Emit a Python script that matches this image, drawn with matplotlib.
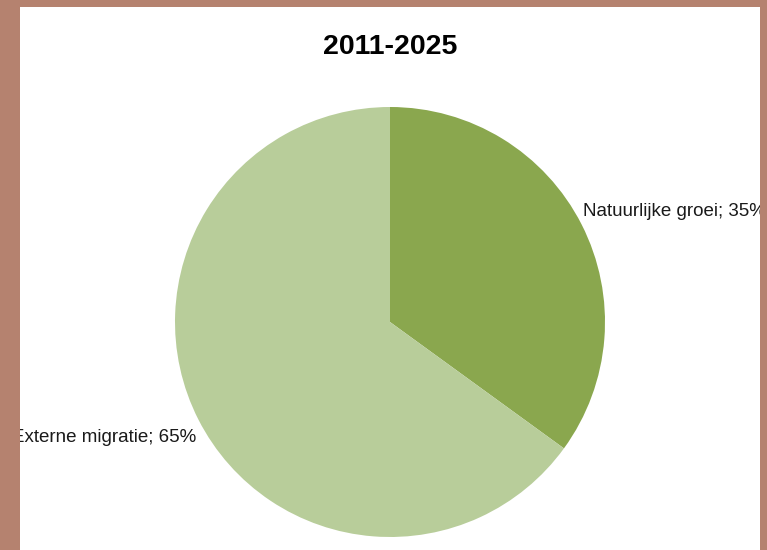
import matplotlib
matplotlib.use("Agg")
import matplotlib.pyplot as plt
from matplotlib.patches import Rectangle
import numpy as np

title = "2011-2025"
categories = ["Natuurlijke groei", "Externe migratie"]
values = [35, 65]
colors = ["#8aa74e", "#b8cd9a"]

W, H = 767, 550
fig = plt.figure(figsize=(W / 100, H / 100), dpi=100)
fig.patch.set_facecolor("#b5826f")

# white panel
px0, py0, px1, py1 = 20, 7, 760, 550
panel = Rectangle((px0 / W, 1 - py1 / H), (px1 - px0) / W, (py1 - py0) / H,
                  transform=fig.transFigure, facecolor="white", edgecolor="none", zorder=-10)
fig.patches.append(panel)

cx, cy, r = 390, 322, 215
ax = fig.add_axes([(cx - r) / W, 1 - (cy + r) / H, 2 * r / W, 2 * r / H])
ax.set_zorder(1)
wedges, _ = ax.pie(values, colors=colors, startangle=90, counterclock=False,
                   radius=1.0, wedgeprops=dict(linewidth=0))
ax.set_xlim(-1, 1)
ax.set_ylim(-1, 1)
ax.set_aspect("equal")
ax.axis("off")

labels = [f"{c}; {v}%" for c, v in zip(categories, values)]
pos = [(0.898, 0.515, "left"), (-0.903, -0.535, "right")]
for lab, (x, y, ha) in zip(labels, pos):
    ax.text(x, y, lab, ha=ha, va="center", fontsize=13.5,
            family="Liberation Sans", color="#1a1a1a", clip_on=False, zorder=2)

# brown frame drawn on top so labels are cut at the panel edge
over = fig.add_axes([0, 0, 1, 1])
over.set_zorder(5)
over.set_xlim(0, W)
over.set_ylim(H, 0)
over.axis("off")
over.patch.set_alpha(0)
over.add_patch(Rectangle((0, 0), px0, H, facecolor="#b5826f", edgecolor="none"))
over.add_patch(Rectangle((px1, 0), W - px1, H, facecolor="#b5826f", edgecolor="none"))
over.add_patch(Rectangle((0, 0), W, py0, facecolor="#b5826f", edgecolor="none"))

fig.text(cx / W, 1 - 47 / H, title, ha="center", va="center", fontsize=20.5,
         fontweight="bold", family="Liberation Sans", color="black")

fig.savefig("out.png", dpi=100)
